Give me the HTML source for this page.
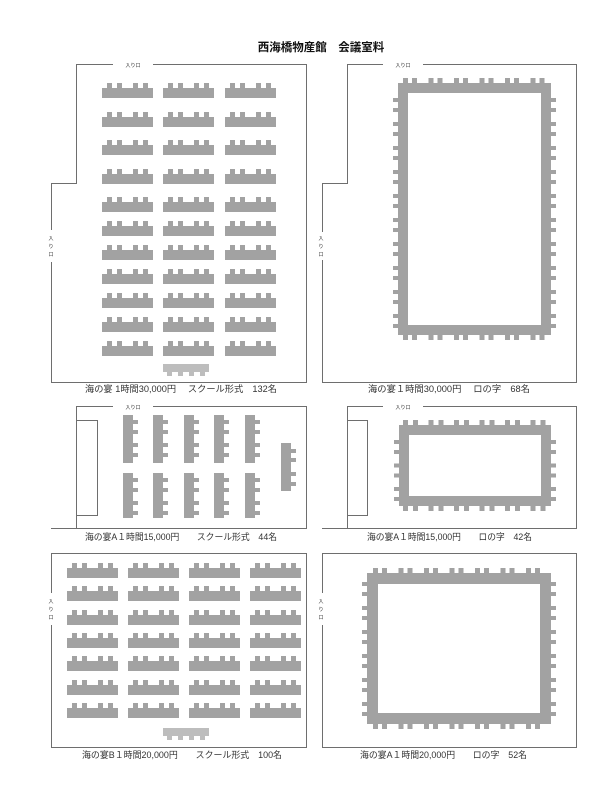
<!DOCTYPE html>
<html><head><meta charset="utf-8"><style>
html,body{margin:0;padding:0;background:#fff;width:601px;height:800px;overflow:hidden}
svg{display:block}
text{font-family:"Liberation Sans","Noto Sans CJK JP",sans-serif;fill:#333}
</style></head><body>
<svg id="s" width="601" height="800" viewBox="0 0 601 800" xmlns="http://www.w3.org/2000/svg">
<g fill="none" stroke="#6e6e6e" stroke-width="1">
<!-- panel1 -->
<polyline points="113,64.5 76.5,64.5 76.5,183.5 51.5,183.5 51.5,230"/>
<polyline points="51.5,262 51.5,382.5 306.5,382.5 306.5,64.5 153,64.5"/>
<!-- panel2 -->
<polyline points="383,64.5 347.5,64.5 347.5,183.5 322.5,183.5 322.5,232"/>
<polyline points="322.5,260 322.5,382.5 576.5,382.5 576.5,64.5 423,64.5"/>
<!-- panel3 -->
<polyline points="113,406.5 76.5,406.5 76.5,528.5"/>
<polyline points="51,528.5 306.5,528.5 306.5,406.5 153,406.5"/>
<rect x="76.5" y="420.5" width="21" height="95"/>
<!-- panel4 -->
<polyline points="383,406.5 347.5,406.5 347.5,528.5"/>
<polyline points="322,528.5 576.5,528.5 576.5,406.5 423,406.5"/>
<rect x="347.5" y="420.5" width="20" height="95"/>
<!-- panel5 -->
<polyline points="51.5,593 51.5,553.5 306.5,553.5 306.5,747.5 51.5,747.5 51.5,625"/>
<!-- panel6 -->
<polyline points="322.5,593 322.5,553.5 576.5,553.5 576.5,747.5 322.5,747.5 322.5,625"/>
</g>
<g id="t" fill="#a2a2a2"></g>
<text x="321" y="51" font-size="11.5" font-weight="bold" text-anchor="middle" style="fill:#111">西海橋物産館　会議室料</text>
<g font-size="5" text-anchor="middle">
<text x="133" y="67">入り口</text>
<text x="403" y="67">入り口</text>
<text x="133" y="409">入り口</text>
<text x="403" y="409">入り口</text>
<text x="51" y="240">入</text><text x="51" y="248">り</text><text x="51" y="256">口</text>
<text x="321" y="240">入</text><text x="321" y="248">り</text><text x="321" y="256">口</text>
<text x="51" y="603">入</text><text x="51" y="611">り</text><text x="51" y="619">口</text>
<text x="321" y="603">入</text><text x="321" y="611">り</text><text x="321" y="619">口</text>
</g>
<g font-size="9">
<text x="85" y="392" textLength="192" lengthAdjust="spacingAndGlyphs">海の宴 1時間30,000円　 スクール形式　132名</text>
<text x="368" y="392" textLength="162" lengthAdjust="spacingAndGlyphs">海の宴１時間30,000円　 ロの字　68名</text>
<text x="85" y="540" textLength="192" lengthAdjust="spacingAndGlyphs">海の宴A１時間15,000円　　スクール形式　44名</text>
<text x="367" y="540" textLength="165" lengthAdjust="spacingAndGlyphs">海の宴A１時間15,000円　　ロの字　42名</text>
<text x="82" y="758" textLength="200" lengthAdjust="spacingAndGlyphs">海の宴B１時間20,000円　　スクール形式　100名</text>
<text x="360" y="758" textLength="167" lengthAdjust="spacingAndGlyphs">海の宴A１時間20,000円　　ロの字　52名</text>
</g>
</svg>
<script>
var g=document.getElementById('t'),NS='http://www.w3.org/2000/svg';
function R(x,y,w,h,c){var r=document.createElementNS(NS,'rect');r.setAttribute('x',x);r.setAttribute('y',y);r.setAttribute('width',w);r.setAttribute('height',h);if(c)r.setAttribute('fill',c);g.appendChild(r);}
function desk(x,y){R(x,y+5,51,10);[5,15,31,41].forEach(function(o){R(x+o,y,5,6);});}
// panel1
[83,112,140,169,197,221,245,269,293,317,341].forEach(function(y){[102,163,225].forEach(function(x){desk(x,y);});});
R(163,364,46,8,'#bdbdbd');[167,178,189,200].forEach(function(x){R(x,371,5,5,'#bdbdbd');});
// panel5
[563,586,610,633,656,680,703].forEach(function(y){[67,128,189,250].forEach(function(x){desk(x,y);});});
R(163,728,46,8,'#bdbdbd');[167,178,189,200].forEach(function(x){R(x,735,5,5,'#bdbdbd');});
// panel3 vertical desks
function vdesk(x,y,h,offs){R(x,y,10,h);offs.forEach(function(o){R(x+9,y+o,6,4);});}
[123,153,184,214,245].forEach(function(x){vdesk(x,415,48,[5,15,28,38]);vdesk(x,473,45,[5,15,28,38]);});
vdesk(281,443,48,[6,15,29,39]);
// U/rect tables
function ring(x1,y1,x2,y2,t,tops,sides){
 R(x1,y1,x2-x1,t);R(x1,y2-t,x2-x1,t);R(x1,y1,t,y2-y1);R(x2-t,y1,t,y2-y1);
 tops.forEach(function(x){R(x,y1-5,5,6);R(x,y2-1,5,6);});
 sides.forEach(function(y){R(x1-5,y,6,4);R(x2-1,y,6,4);});
}
function seq(s,n,p,g2){var a=[];for(var i=0;i<n;i++){a.push(s+i*p);a.push(s+i*p+g2);}return a;}
ring(398,83,551,335,10,seq(403,6,25.5,9),seq(98,10,24,10));
ring(399,425,551,506,10,seq(403,6,25.5,10),seq(440,3,23.5,10));
ring(367,573,551,724,11,seq(373,7,25.5,9),seq(582,6,24,10));
</script>
</body></html>
